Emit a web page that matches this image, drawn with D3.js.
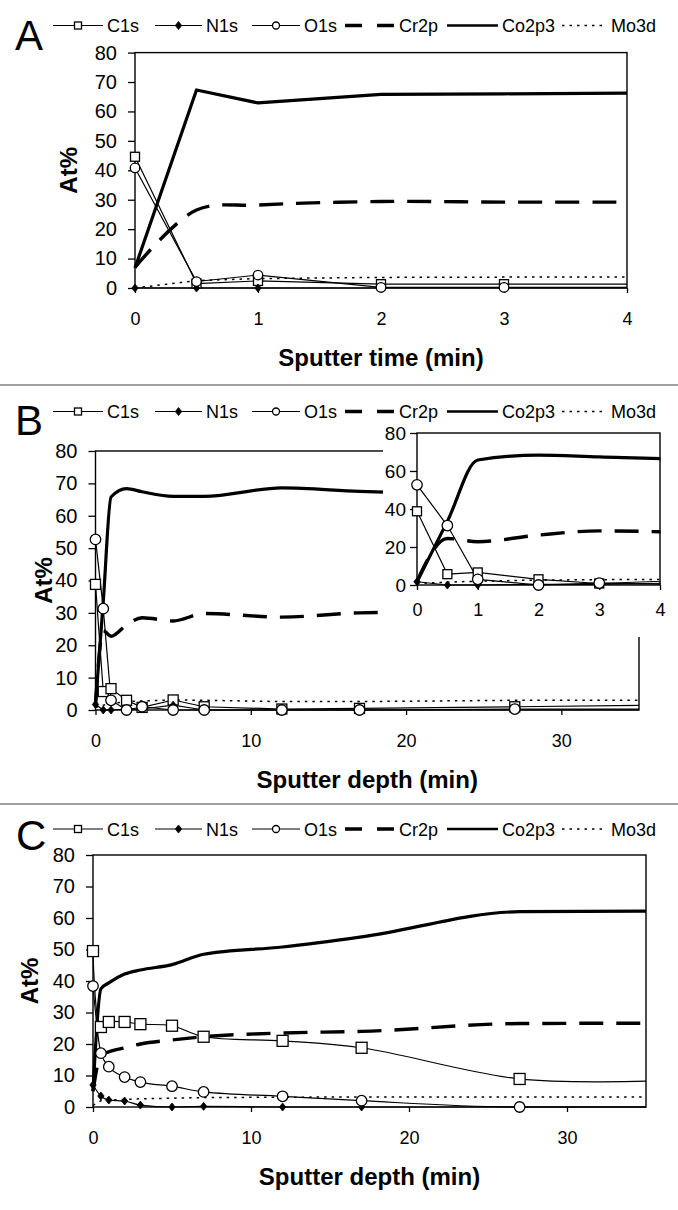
<!DOCTYPE html>
<html><head><meta charset="utf-8">
<script src="https://cdn.jsdelivr.net/npm/d3@7"></script>
<style>
html,body{margin:0;padding:0;background:#fff;}
svg text{font-family:"Liberation Sans",Arial,sans-serif;fill:#000;}
</style></head><body>
<svg id="fig" width="678" height="1210"></svg>
<script>
// ---------- DATA ----------
const seriesNames = ["C1s", "N1s", "O1s", "Cr2p", "Co2p3", "Mo3d"];
const yTicksMain = [0, 10, 20, 30, 40, 50, 60, 70, 80];
const yTicksInset = [0, 20, 40, 60, 80];
const xTicksTime = [0, 1, 2, 3, 4];
const xTicksDepth = [0, 10, 20, 30];

// Panel A : sputter time (min)
const timeA  = [0, 0.5, 1, 2, 3, 4];
const A_C1s  = [44.6, 1.5, 2.4, 1.3, 1.3, 1.3];
const A_N1s  = [0, 0, 0, 0, 0, 0];
const A_O1s  = [40.8, 2.2, 4.4, 0.2, 0.2, 0.2];
const A_Cr2p = [7.0, 26.5, 28.2, 29.4, 29.2, 29.2];
const A_Co2p3= [6.8, 67.3, 62.9, 65.8, 66.0, 66.2];
const A_Mo3d = [0.0, 2.5, 3.2, 3.6, 3.7, 3.7];

// Panel B : sputter depth (min) (inset shows the same data for 0-4 min)
const depthB = [0, 0.5, 1, 2, 3, 5, 7, 12, 17, 27, 35];
const B_C1s  = [38.8, 5.7, 6.6, 3.0, 0.8, 3.1, 1.0, 0.3, 0.5, 1.0, 1.4];
const B_N1s  = [1.7, 0, 0, 0.3, 0.3, 1.5, 0, 0, 0, 0, 0];
const B_O1s  = [52.7, 31.3, 3.0, 0, 1.0, 0, 0, 0, 0, 0.3, 0.3];
const B_Cr2p = [2.0, 24.5, 22.8, 26.3, 28.5, 27.5, 29.8, 28.7, 30.0, 30.5, 30.2];
const B_Co2p3= [1.7, 33.5, 65.8, 68.4, 67.4, 66.0, 66.0, 68.6, 67.5, 66.6, 66.5];
const B_Mo3d = [0.8, 1.5, 2.0, 2.6, 2.8, 3.1, 3.0, 2.6, 2.6, 3.0, 3.0];

// Panel C : sputter depth (min)
const depthC = [0, 0.5, 1, 2, 3, 5, 7, 12, 17, 27, 35];
const C_C1s  = [49.5, 25.4, 27.0, 27.0, 26.3, 25.8, 22.3, 21.0, 18.8, 8.9, 8.2];
const C_N1s  = [7.0, 3.5, 2.2, 1.9, 0.6, 0, 0.2, 0, 0, 0, 0];
const C_O1s  = [38.4, 17.1, 12.8, 9.5, 7.9, 6.6, 4.8, 3.4, 2.0, 0, 0];
const C_Cr2p = [5.0, 16.5, 17.5, 18.8, 20.0, 21.3, 22.3, 23.5, 24.0, 26.5, 26.6];
const C_Co2p3= [5.0, 37.5, 39.4, 42.2, 43.5, 45.2, 48.5, 50.8, 54.0, 62.0, 62.2];
const C_Mo3d = [0.5, 2.0, 2.2, 2.4, 2.6, 2.8, 3.0, 3.1, 3.2, 3.2, 3.2];

// ---------- STYLES ----------
const style = {
  C1s:   {w: 1.2, dash: null,   marker: "square"},
  N1s:   {w: 1.2, dash: null,   marker: "diamond"},
  O1s:   {w: 1.2, dash: null,   marker: "circle"},
  Cr2p:  {w: 3.4, dash: "24,13", legendDash: "17,15", marker: null},
  Co2p3: {w: 3.2, dash: null,   marker: null},
  Mo3d:  {w: 1.5, dash: "2.5,5", legendDash: "2.5,5", marker: null}
};
const legendX = {C1s: 53, N1s: 155, O1s: 252, Cr2p: 345, Co2p3: 447, Mo3d: 562};
const legendLineLen = {C1s: 50, N1s: 47, O1s: 48, Cr2p: 50, Co2p3: 51, Mo3d: 45};

const svg = d3.select("#fig");
let clipId = 0;

function drawMarker(g, type, cx, cy, s) {
  if (type === "square") {
    g.append("rect").attr("x", cx - s/2).attr("y", cy - s/2).attr("width", s).attr("height", s)
      .attr("fill", "#fff").attr("stroke", "#000").attr("stroke-width", 1.3);
  } else if (type === "circle") {
    g.append("circle").attr("cx", cx).attr("cy", cy).attr("r", s/2)
      .attr("fill", "#fff").attr("stroke", "#000").attr("stroke-width", 1.3);
  } else if (type === "diamond") {
    const h = s/2, w = s*0.4;
    g.append("path").attr("d", `M${cx},${cy-h}L${cx+w},${cy}L${cx},${cy+h}L${cx-w},${cy}Z`)
      .attr("fill", "#000").attr("stroke", "#000").attr("stroke-width", 0.8);
  }
}

function legend(yc) {
  const g = svg.append("g");
  seriesNames.forEach(n => {
    const st = style[n], x0 = legendX[n], L = legendLineLen[n];
    g.append("line").attr("x1", x0).attr("x2", x0 + L).attr("y1", yc).attr("y2", yc)
      .attr("stroke", "#000").attr("stroke-width", n === "Cr2p" ? 3.4 : (n === "Co2p3" ? 2.6 : (n === "Mo3d" ? 1.5 : 1.2)))
      .attr("stroke-dasharray", st.legendDash || null);
    if (st.marker) drawMarker(g, st.marker, x0 + L/2, yc, st.marker === "diamond" ? 8 : 7);
    g.append("text").attr("x", x0 + L + 4).attr("y", yc + 6.5).attr("font-size", 18).text(n);
  });
}

function curveFor(kind) {
  if (kind === "catmull") return d3.curveCatmullRom.alpha(0.5);
  if (kind === "monotone") return d3.curveMonotoneX;
  return d3.curveLinear;
}

function panel(cfg) {
  const x = d3.scaleLinear().domain(cfg.xDomain).range([cfg.x0, cfg.x1]);
  const y = d3.scaleLinear().domain([0, 80]).range([cfg.yBot, cfg.yTop]);
  const g = svg.append("g");
  if (cfg.bg) g.append("rect").attr("x", cfg.bg[0]).attr("y", cfg.bg[1]).attr("width", cfg.bg[2]).attr("height", cfg.bg[3]).attr("fill", "#fff");

  const xa = g.append("g").attr("transform", `translate(0,${cfg.yBot})`)
    .call(d3.axisBottom(x).tickValues(cfg.xTicks).tickSize(5).tickSizeOuter(0).tickPadding(cfg.xPad).tickFormat(d3.format("d")));
  const ya = g.append("g").attr("transform", `translate(${cfg.x0},0)`)
    .call(d3.axisLeft(y).tickValues(cfg.yTicks).tickSize(7).tickSizeOuter(0).tickPadding(cfg.yPad).tickFormat(d3.format("d")));
  [xa, ya].forEach(a => {
    a.select(".domain").remove();
    a.selectAll("line").attr("stroke", "#000").attr("stroke-width", 1.3);
    a.selectAll("text").attr("font-family", '"Liberation Sans",Arial,sans-serif').attr("fill", "#000");
  });
  xa.selectAll("text").attr("font-size", cfg.xFont);
  ya.selectAll("text").attr("font-size", cfg.yFont);

  g.append("rect").attr("x", cfg.x0).attr("y", cfg.yTop).attr("width", cfg.x1 - cfg.x0).attr("height", cfg.yBot - cfg.yTop)
    .attr("fill", "none").attr("stroke", "#000").attr("stroke-width", 1.4);

  const id = "clip" + (clipId++);
  g.append("clipPath").attr("id", id).append("rect")
    .attr("x", cfg.x0 - 12).attr("y", cfg.yTop - 12).attr("width", cfg.x1 - cfg.x0 + 12.5).attr("height", cfg.yBot - cfg.yTop + 24);
  const plot = g.append("g").attr("clip-path", `url(#${id})`);

  seriesNames.forEach(n => {
    const st = style[n];
    const pts = cfg.xs.map((xv, i) => [xv, cfg.data[n][i]]);
    const curve = curveFor(cfg.curves[n]);
    plot.append("path").attr("d", d3.line().x(d => x(d[0])).y(d => y(d[1])).curve(curve)(pts))
      .attr("fill", "none").attr("stroke", "#000").attr("stroke-width", st.w)
      .attr("stroke-dasharray", st.dash).attr("stroke-linejoin", "round");
  });
  seriesNames.forEach(n => {
    const st = style[n];
    if (!st.marker) return;
    cfg.xs.forEach((xv, i) => {
      if (i === cfg.xs.length - 1) return; // last point plotted without marker
      if (xv > cfg.xDomain[1]) return;
      drawMarker(plot, st.marker, x(xv), y(cfg.data[n][i]), cfg.msize[st.marker]);
    });
  });

  if (cfg.xTitle) g.append("text").attr("x", (cfg.x0 + cfg.x1) / 2).attr("y", cfg.yBot + 78)
    .attr("text-anchor", "middle").attr("font-size", 24).attr("font-weight", "bold").text(cfg.xTitle);
  if (cfg.yTitleX) g.append("text").attr("transform", `translate(${cfg.yTitleX},${(cfg.yTop + cfg.yBot) / 2}) rotate(-90)`)
    .attr("text-anchor", "middle").attr("dy", "0.36em").attr("font-size", 24).attr("font-weight", "bold").text("At%");
}

function letter(t, xp, yb) {
  svg.append("text").attr("x", xp).attr("y", yb).attr("font-size", 42).text(t);
}

// separators
[385, 804].forEach(yy => svg.append("line").attr("x1", 0).attr("x2", 678).attr("y1", yy).attr("y2", yy)
  .attr("stroke", "#a0a0a0").attr("stroke-width", 2));

// Panel A
letter("A", 15, 50);
legend(25.5);
panel({x0: 135, x1: 627, yTop: 52.6, yBot: 288, xDomain: [0, 4], xTicks: xTicksTime, yTicks: yTicksMain,
  xs: timeA, data: {C1s: A_C1s, N1s: A_N1s, O1s: A_O1s, Cr2p: A_Cr2p, Co2p3: A_Co2p3, Mo3d: A_Mo3d},
  curves: {Cr2p: "catmull"}, msize: {square: 9, circle: 9.5, diamond: 8}, xFont: 18, yFont: 20, xPad: 19, yPad: 11,
  xTitle: "Sputter time (min)", yTitleX: 68});

// Panel B
letter("B", 15, 435);
legend(411.5);
const dataB = {C1s: B_C1s, N1s: B_N1s, O1s: B_O1s, Cr2p: B_Cr2p, Co2p3: B_Co2p3, Mo3d: B_Mo3d};
const curvesB = {Cr2p: "monotone", Co2p3: "monotone"};
panel({x0: 95.5, x1: 639, yTop: 451, yBot: 710, xDomain: [0, 35], xTicks: xTicksDepth, yTicks: yTicksMain,
  xs: depthB, data: dataB, curves: curvesB, msize: {square: 10, circle: 10.5, diamond: 8},
  xFont: 18, yFont: 20, xPad: 19, yPad: 11, xTitle: "Sputter depth (min)", yTitleX: 43});
panel({x0: 417, x1: 660, yTop: 433, yBot: 585, xDomain: [0, 4], xTicks: xTicksTime, yTicks: yTicksInset,
  xs: depthB, data: dataB, curves: curvesB, msize: {square: 9, circle: 10.5, diamond: 8},
  xFont: 18, yFont: 19, xPad: 13, yPad: 4, bg: [383, 424, 295, 213]});

// Panel C
letter("C", 16, 850);
legend(829);
panel({x0: 93, x1: 646, yTop: 855, yBot: 1107, xDomain: [0, 35], xTicks: xTicksDepth, yTicks: yTicksMain,
  xs: depthC, data: {C1s: C_C1s, N1s: C_N1s, O1s: C_O1s, Cr2p: C_Cr2p, Co2p3: C_Co2p3, Mo3d: C_Mo3d},
  curves: {C1s: "catmull", O1s: "monotone", Cr2p: "monotone", Co2p3: "monotone", N1s: "monotone"},
  msize: {square: 11, circle: 10.5, diamond: 8},
  xFont: 18, yFont: 20, xPad: 19, yPad: 11, xTitle: "Sputter depth (min)", yTitleX: 29});
</script>
</body></html>
